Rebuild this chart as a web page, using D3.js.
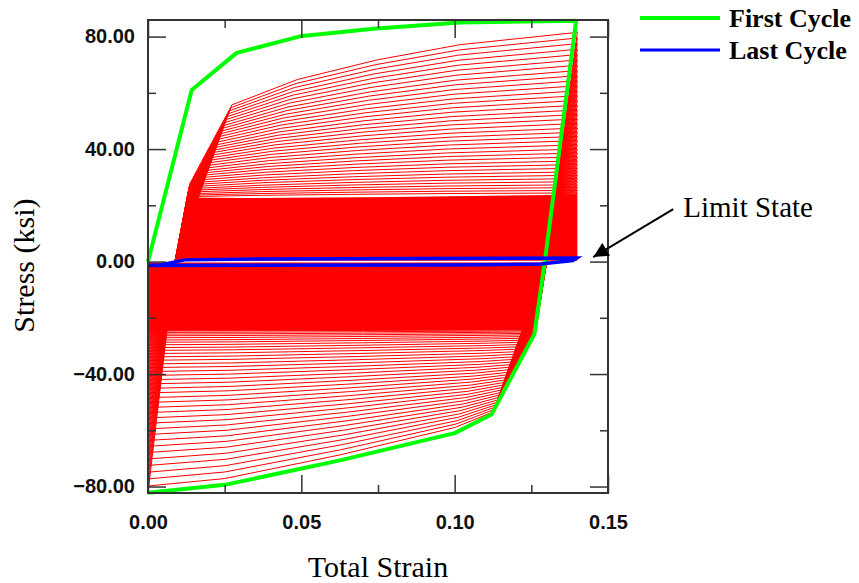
<!DOCTYPE html>
<html>
<head>
<meta charset="utf-8">
<script src="https://cdn.jsdelivr.net/npm/d3@7"></script>
<style>
    body { margin: 0; background: #fff; }
    .tick text { font-family: "Liberation Sans", Arial, sans-serif; font-weight: bold; font-size: 20px; fill: #111; }
</style>
</head>
<body>
<div id="chart"></div>
<script>
"use strict";

// tick values
const xTicksMajor = [0, 0.05, 0.10, 0.15];
const xTicksMinor = [0.025, 0.075, 0.125];
const yTicksMajor = [-80, -40, 0, 40, 80];
const yTicksMinor = [-60, -20, 20, 60];

// first cycle, [strain, stress]
const firstCycle = [
    [0, 0], [0.01425, 61], [0.0289, 74.2], [0.0496, 80.1], [0.0735, 82.8], [0.1017, 85.0],
    [0.1396, 85.6], [0.1294, 0], [0.1260, -25.8], [0.1120, -54.4], [0.1000, -61.0],
    [0.0626, -70.7], [0.0250, -79.4], [0, -82.2]
];

// last cycle, [strain, stress]
const lastCycle = [
    [0, -1.3], [0.004, -1.2], [0.012, 0.6], [0.035, 0.9], [0.1398, 1.3],
    [0.1385, 0.4], [0.128, -0.9], [0.100, -1.2], [0, -1.4]
];

// intermediate cycles: stress at strain 0.14 (tension peak)
const tensionPeak = [
    81.5, 79.5, 77.5, 75.5, 73.6, 71.7, 69.8, 67.9, 66.1, 64.3,
    62.5, 60.7, 59.0, 57.3, 55.6, 53.9, 52.3, 50.7, 49.1, 47.5,
    46.0, 44.5, 43.0, 41.5, 40.0, 38.6, 37.2, 35.8, 34.5, 33.2,
    31.9, 30.7, 29.5, 28.4, 27.3, 26.3, 25.3, 24.4
];
// stress where the tension hardening line starts
const tensionKnee = [
    55.7, 54.6, 53.5, 52.4, 51.3, 50.2, 49.1, 48.0, 47.0, 46.0,
    45.0, 44.0, 43.0, 42.0, 41.0, 40.1, 39.2, 38.3, 37.4, 36.5,
    35.6, 34.7, 33.8, 32.9, 32.0, 31.2, 30.4, 29.6, 28.8, 28.0,
    27.3, 26.6, 25.9, 25.3, 24.7, 24.1, 23.6, 23.1
];
// stress at strain 0 (compression peak), one more than tension peaks
const compressionPeak = [
    -82.2, -79.8, -77.3, -74.9, -72.5, -70.2, -67.9, -65.7, -63.6, -61.5,
    -59.5, -57.5, -55.6, -53.7, -51.9, -50.1, -48.4, -46.7, -45.1, -43.5,
    -42.0, -40.5, -39.1, -37.7, -36.4, -35.1, -33.9, -32.7, -31.6, -30.6,
    -29.6, -28.7, -27.9, -27.1, -26.4, -25.8, -25.2, -24.7, -24.2
];
// stress where the compression hardening line starts
const compressionKnee = [
    -53.5, -52.6, -51.7, -50.8, -49.9, -49.0, -48.1, -47.2, -46.3, -45.4,
    -44.5, -43.6, -42.7, -41.8, -40.9, -40.0, -39.1, -38.2, -37.3, -36.4,
    -35.5, -34.6, -33.7, -32.8, -31.9, -31.0, -30.2, -29.4, -28.6, -27.9,
    -27.2, -26.6, -26.0, -25.5, -25.0, -24.6, -24.2, -23.9
];

// envelope of the knees, [strain, stress]
const tensionPivot = [0.0088, 0];
const compressionPivot = [0.1300, 0];
const tensionBoundary = [[0.0088, 0], [0.0137, 28], [0.0273, 55.7]];
const compressionBoundary = [[0.1300, 0], [0.1262, -26], [0.1125, -53.5]];
const peakStrain = 0.14;

// shape of the hardening lines, [fraction of strain span, fraction of stress span]
const upperShape = [[0, 0], [0.19, 0.35], [0.42, 0.62], [0.66, 0.83], [1, 1]];
const lowerShape = [[0, 0], [0.111, 0.21], [0.444, 0.58], [0.778, 0.90], [1, 1]];

// region where later cycles overlap into solid red
const denseUpper = [[0.0088, 0.3], [0.0128, 22.8], [0.03, 22.6], [0.08, 23.0], [0.14, 23.8], [0.14, 0.3]];
const denseLower = [[0, -0.3], [0.1300, -0.3], [0.1264, -24.4], [0.06, -24.6], [0, -24.6]];

const limitState = { strain: 0.1452, stress: 1.6, label: "Limit State" };

const width = 859;
const height = 583;
const margin = { top: 20, right: 251, bottom: 90, left: 148 };
const plotWidth = width - margin.left - margin.right;
const plotHeight = height - margin.top - margin.bottom;

const xScale = d3.scaleLinear().domain([0, 0.15]).range([0, plotWidth]);
const yScale = d3.scaleLinear().domain([-82.3, 85.9]).range([plotHeight, 0]);

const line = d3.line().x(d => xScale(d[0])).y(d => yScale(d[1]));

// strain on a boundary polyline for a given stress
function boundaryStrain(boundary, stress) {
    for (let i = 1; i < boundary.length; i++) {
        let a = boundary[i - 1];
        let b = boundary[i];
        let lo = Math.min(a[1], b[1]);
        let hi = Math.max(a[1], b[1]);
        if ((stress >= lo && stress <= hi) || i === boundary.length - 1) {
            let t = (stress - a[1]) / (b[1] - a[1]);
            return a[0] + t * (b[0] - a[0]);
        }
    }
    return boundary[0][0];
}

function cyclePoints(k) {
    let points = [];
    let c0 = compressionPeak[k];
    let c1 = compressionPeak[k + 1];
    let t = tensionPeak[k];
    let s = tensionKnee[k];
    let u = compressionKnee[k];

    points.push([0, c0]);
    points.push(tensionPivot);
    let kx = boundaryStrain(tensionBoundary, s);
    upperShape.forEach(p => points.push([kx + p[0] * (peakStrain - kx), s + p[1] * (t - s)]));

    points.push(compressionPivot);
    let ux = boundaryStrain(compressionBoundary, u);
    lowerShape.forEach(p => points.push([ux - p[0] * ux, u + p[1] * (c1 - u)]));
    return points;
}

const svgRoot = d3.select("#chart").append("svg")
    .attr("width", width)
    .attr("height", height);

svgRoot.append("rect").attr("width", width).attr("height", height).attr("fill", "#fff");

const svg = svgRoot.append("g")
    .attr("transform", `translate(${margin.left},${margin.top})`);

// dense red region
[denseUpper, denseLower].forEach(poly => {
    svg.append("path")
        .attr("d", line(poly) + "Z")
        .attr("fill", "#ff0000")
        .attr("stroke", "none");
});

// intermediate cycles
svg.selectAll(".cycle")
    .data(d3.range(tensionPeak.length))
    .enter()
    .append("path")
    .attr("class", "cycle")
    .attr("d", k => line(cyclePoints(k)))
    .attr("fill", "none")
    .attr("stroke", "#ff0000")
    .attr("stroke-width", 1);

// first and last cycle
svg.append("path")
    .attr("d", line(firstCycle))
    .attr("fill", "none")
    .attr("stroke", "#00ff00")
    .attr("stroke-width", 4)
    .attr("stroke-linejoin", "round");

svg.append("path")
    .attr("d", line(lastCycle))
    .attr("fill", "none")
    .attr("stroke", "#0000ff")
    .attr("stroke-width", 3.5);

// axes
const axisColor = "#333";
function styleAxis(g) {
    g.select(".domain").remove();
    g.selectAll(".tick line").attr("stroke", axisColor).attr("stroke-width", 1.5);
}

svg.append("g")
    .attr("transform", `translate(0,${plotHeight})`)
    .call(d3.axisBottom(xScale).tickValues(xTicksMajor).tickSize(-18).tickPadding(22).tickFormat(d3.format(".2f")))
    .call(styleAxis);
svg.append("g")
    .attr("transform", `translate(0,${plotHeight})`)
    .call(d3.axisBottom(xScale).tickValues(xTicksMinor).tickSize(-8).tickFormat(""))
    .call(styleAxis);
svg.append("g")
    .call(d3.axisTop(xScale).tickValues(xTicksMajor).tickSize(-18).tickFormat(""))
    .call(styleAxis);
svg.append("g")
    .call(d3.axisTop(xScale).tickValues(xTicksMinor).tickSize(-8).tickFormat(""))
    .call(styleAxis);

svg.append("g")
    .call(d3.axisLeft(yScale).tickValues(yTicksMajor).tickSize(-18).tickPadding(13).tickFormat(d3.format(".2f")))
    .call(styleAxis);
svg.append("g")
    .call(d3.axisLeft(yScale).tickValues(yTicksMinor).tickSize(-8).tickFormat(""))
    .call(styleAxis);
svg.append("g")
    .attr("transform", `translate(${plotWidth},0)`)
    .call(d3.axisRight(yScale).tickValues(yTicksMajor).tickSize(-18).tickFormat(""))
    .call(styleAxis);
svg.append("g")
    .attr("transform", `translate(${plotWidth},0)`)
    .call(d3.axisRight(yScale).tickValues(yTicksMinor).tickSize(-8).tickFormat(""))
    .call(styleAxis);

svg.append("rect")
    .attr("width", plotWidth)
    .attr("height", plotHeight)
    .attr("fill", "none")
    .attr("stroke", axisColor)
    .attr("stroke-width", 2);

// axis titles
const serif = "'Liberation Serif', 'Times New Roman', serif";
svg.append("text")
    .attr("x", plotWidth / 2)
    .attr("y", plotHeight + 84)
    .attr("text-anchor", "middle")
    .style("font-family", serif)
    .style("font-size", "30px")
    .text("Total Strain");

svg.append("text")
    .attr("transform", `translate(${-margin.left + 34},${yScale(0) + 4}) rotate(-90)`)
    .attr("text-anchor", "middle")
    .style("font-family", serif)
    .style("font-size", "30px")
    .text("Stress (ksi)");

// limit state annotation
svgRoot.append("defs").append("marker")
    .attr("id", "arrow")
    .attr("viewBox", "0 0 10 10")
    .attr("refX", 10)
    .attr("refY", 5)
    .attr("markerUnits", "userSpaceOnUse")
    .attr("orient", "auto")
    .attr("markerWidth", 17)
    .attr("markerHeight", 15)
    .append("path")
    .attr("d", "M0,0 L10,5 L0,10 Z")
    .attr("fill", "#000");

const tipX = xScale(limitState.strain);
const tipY = yScale(limitState.stress);
svg.append("line")
    .attr("x1", tipX + 80)
    .attr("y1", tipY - 48)
    .attr("x2", tipX)
    .attr("y2", tipY)
    .attr("stroke", "#000")
    .attr("stroke-width", 2)
    .attr("marker-end", "url(#arrow)");

svg.append("text")
    .attr("x", tipX + 90)
    .attr("y", tipY - 40)
    .style("font-family", serif)
    .style("font-size", "29px")
    .text(limitState.label);

// legend
const legendItems = [
    { name: "First Cycle", color: "#00ff00", width: 4 },
    { name: "Last Cycle", color: "#0000ff", width: 3 }
];
const legend = svgRoot.selectAll(".legend")
    .data(legendItems)
    .enter()
    .append("g")
    .attr("class", "legend")
    .attr("transform", (_d, i) => `translate(640,${18 + i * 32})`);

legend.append("line")
    .attr("x1", 0)
    .attr("x2", 80)
    .attr("stroke", d => d.color)
    .attr("stroke-width", d => d.width);

legend.append("text")
    .attr("x", 89)
    .attr("y", 9)
    .style("font-family", serif)
    .style("font-weight", "bold")
    .style("font-size", "26px")
    .text(d => d.name);
</script>
</body>
</html>
